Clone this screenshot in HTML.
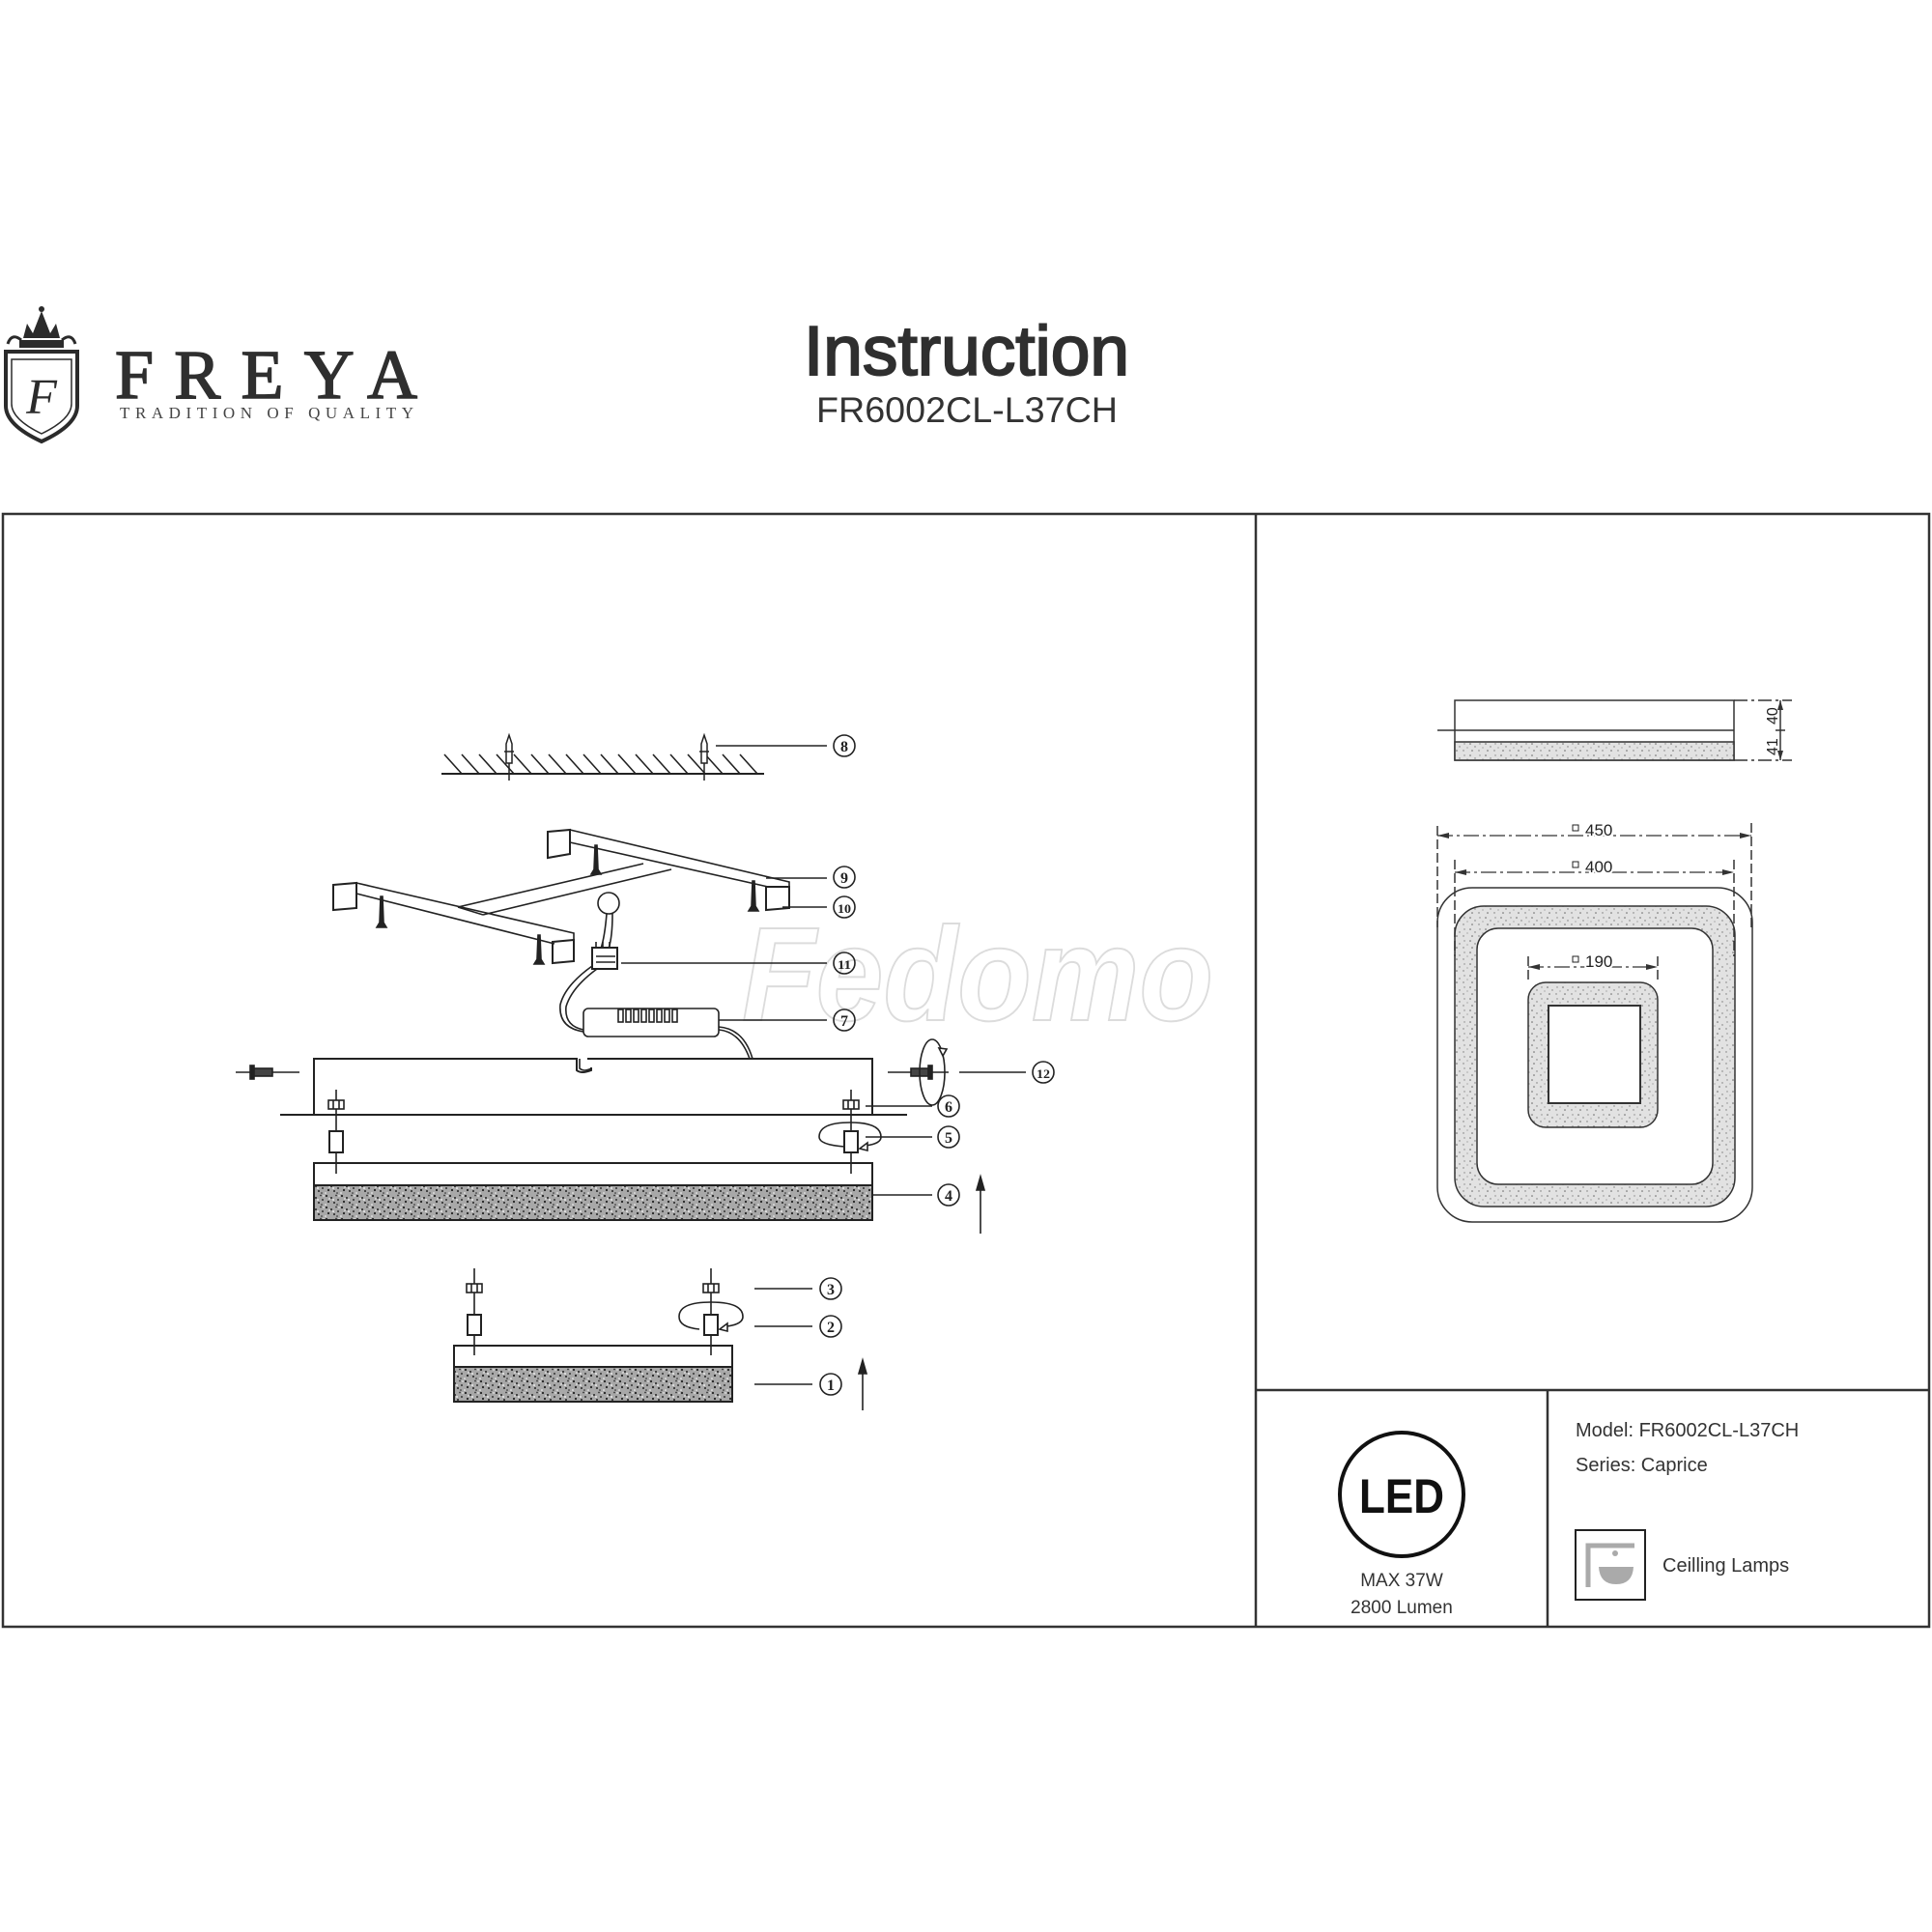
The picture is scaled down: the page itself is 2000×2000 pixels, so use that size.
<!DOCTYPE html>
<html><head><meta charset="utf-8"><style>
html,body{margin:0;padding:0;background:#fff;}
svg{display:block;}
</style></head><body>
<svg width="2000" height="2000" viewBox="0 0 2000 2000" xmlns="http://www.w3.org/2000/svg" font-family="Liberation Sans, sans-serif">
<defs>
<pattern id="fd" width="16" height="12" patternUnits="userSpaceOnUse">
<rect width="16" height="12" fill="#a8a8a8"/>
<circle cx="2" cy="2" r="1.1" fill="#222"/><circle cx="7" cy="4" r="1" fill="#222"/><circle cx="12" cy="1.5" r="0.9" fill="#333"/>
<circle cx="4" cy="8" r="1.1" fill="#222"/><circle cx="10" cy="9" r="1" fill="#222"/><circle cx="14" cy="6" r="1" fill="#333"/>
<circle cx="1" cy="11" r="0.8" fill="#fff"/><circle cx="9" cy="6" r="0.9" fill="#fff"/><circle cx="13" cy="11" r="0.8" fill="#222"/>
<circle cx="5" cy="5" r="0.7" fill="#fff"/><circle cx="15" cy="2" r="0.7" fill="#fff"/>
</pattern>
<pattern id="fl" width="16" height="12" patternUnits="userSpaceOnUse">
<rect width="16" height="12" fill="#e2e2e2"/>
<circle cx="2" cy="2" r="0.8" fill="#666"/><circle cx="7" cy="5" r="0.7" fill="#777"/><circle cx="12" cy="2" r="0.7" fill="#888"/>
<circle cx="4" cy="9" r="0.8" fill="#666"/><circle cx="11" cy="9" r="0.7" fill="#777"/><circle cx="15" cy="6" r="0.6" fill="#888"/>
</pattern>
</defs>

<!-- LOGO -->
<g fill="#2b2b2b">
<path d="M20 360 L66 360 L66 352 L20 352 Z"/>
<path d="M24 350 L28 335 L34 345 L43 322 L52 345 L58 335 L62 350 Z"/>
<circle cx="43" cy="320" r="3"/>
<path d="M8 356 q4 -12 14 -4 M78 356 q-4 -12 -14 -4" fill="none" stroke="#2b2b2b" stroke-width="3"/>
<path d="M6 364 L80 364 L80 420 Q80 440 43 457 Q6 440 6 420 Z" fill="none" stroke="#2b2b2b" stroke-width="4"/>
<path d="M12 372 L74 372 L74 418 Q74 434 43 449 Q12 434 12 418 Z" fill="none" stroke="#2b2b2b" stroke-width="1.5"/>
<text x="43" y="428" font-family="Liberation Serif, serif" font-style="italic" font-size="52" text-anchor="middle">F</text>
</g>
<text x="119" y="412" font-family="Liberation Serif, serif" font-size="72" fill="#2f2f2f" stroke="#2f2f2f" stroke-width="1.5" textLength="313" lengthAdjust="spacing">FREYA</text>
<text x="124" y="433" font-family="Liberation Serif, serif" font-size="17" fill="#444" textLength="304" lengthAdjust="spacing">TRADITION OF QUALITY</text>

<!-- TITLE -->
<text x="832" y="388" font-size="72" fill="#2f2f2f" stroke="#2f2f2f" stroke-width="2" textLength="337" lengthAdjust="spacingAndGlyphs">Instruction</text>
<text x="845" y="437" font-size="37" fill="#333" textLength="312" lengthAdjust="spacingAndGlyphs">FR6002CL-L37CH</text>

<!-- FRAME -->
<g fill="none" stroke="#333" stroke-width="2.5">
<rect x="3" y="532" width="1994" height="1152"/>
<line x1="1300" y1="532" x2="1300" y2="1684"/>
<line x1="1300" y1="1439" x2="1997" y2="1439"/>
<line x1="1602" y1="1439" x2="1602" y2="1684"/>
</g>

<!-- watermark -->
<text x="768" y="1056" font-size="138" font-weight="bold" font-style="italic" fill="#fff" stroke="#dcdcdc" stroke-width="2" textLength="488" lengthAdjust="spacingAndGlyphs">Fedomo</text>

<!-- LEFT DRAWING -->
<g stroke="#222" fill="none" stroke-width="1.6">
<line x1="457" y1="801" x2="791" y2="801" stroke-width="2"/>
<path d="M460 781 l18 20 M478 781 l18 20 M496 781 l18 20 M514 781 l18 20 M532 781 l18 20 M550 781 l18 20 M568 781 l18 20 M586 781 l18 20 M604 781 l18 20 M622 781 l18 20 M640 781 l18 20 M658 781 l18 20 M676 781 l18 20 M694 781 l18 20 M712 781 l18 20 M730 781 l18 20 M748 781 l18 20 M766 781 l18 20"/>
<g stroke-width="1.5" fill="#fff">
<path d="M524 790 L524 770 L527 761 L530 770 L530 790 Z"/><line x1="527" y1="790" x2="527" y2="808"/><line x1="522" y1="778" x2="532" y2="778"/>
<path d="M726 790 L726 770 L729 761 L732 770 L732 790 Z"/><line x1="729" y1="790" x2="729" y2="808"/><line x1="724" y1="778" x2="734" y2="778"/>
</g>
<line x1="741" y1="772" x2="856" y2="772"/>

<path d="M567 861 L590 859 L590 884 L567 888 Z" stroke-width="2"/>
<path d="M590 859 L817 913 L817 918 M590 872 L795 918"/>
<path d="M793 918 L817 918 L817 940 L793 942 Z" stroke-width="2"/>
<path d="M345 916 L369 914 L369 940 L345 942 Z" stroke-width="2"/>
<path d="M369 914 L594 966 L594 973 M369 925 L574 977"/>
<path d="M572 975 L594 973 L594 995 L572 997 Z" stroke-width="2"/>
<path d="M474 939 L666 894 M500 947 L695 900 M474 939 L500 947"/>
<g fill="#222">
<path d="M394 928 L396 928 L397 955 L400 960 L390 960 L393 955 Z"/>
<path d="M616 875 L618 875 L619 900 L622 905 L612 905 L615 900 Z"/>
<path d="M779 912 L781 912 L782 938 L785 943 L775 943 L778 938 Z"/>
<path d="M557 968 L559 968 L560 993 L563 998 L553 998 L556 993 Z"/>
</g>
<line x1="793" y1="909" x2="856" y2="909"/>
<line x1="810" y1="939" x2="856" y2="939"/>
<circle cx="630" cy="935" r="11"/>
<path d="M628 946 Q626 970 622 982 M634 946 Q634 970 630 982"/>
<rect x="613" y="981" width="26" height="22" fill="#fff" stroke-width="2"/>
<path d="M617 981 l0 -6 M624 981 l0 -6 M631 981 l0 -6 M617 990 h20 M617 996 h20"/>
<line x1="643" y1="997" x2="856" y2="997"/>
<path d="M613 1000 Q585 1020 580 1040 Q578 1064 604 1068 M618 1003 Q592 1022 586 1042 Q584 1062 604 1066"/>
<rect x="604" y="1044" width="140" height="29" rx="5" fill="#fff"/>
<g fill="#fff"><rect x="640" y="1045" width="5" height="13"/><rect x="648" y="1045" width="5" height="13"/><rect x="656" y="1045" width="5" height="13"/><rect x="664" y="1045" width="5" height="13"/><rect x="672" y="1045" width="5" height="13"/><rect x="680" y="1045" width="5" height="13"/><rect x="688" y="1045" width="5" height="13"/><rect x="696" y="1045" width="5" height="13"/></g>
<line x1="744" y1="1056" x2="856" y2="1056"/>
<path d="M744 1063 Q770 1065 779 1096 M744 1066 Q766 1068 776 1096"/>
<path d="M325 1153 L325 1096 L597 1096 L597 1108 Q602 1112 612 1108 L612 1105 M608 1096 L903 1096 L903 1153" stroke-width="2"/>
<path d="M600 1096 L600 1106 Q605 1110 612 1106"/>
<line x1="290" y1="1154" x2="939" y2="1154" stroke-width="2"/>
<line x1="244" y1="1110" x2="310" y2="1110"/>
<rect x="262" y="1106" width="20" height="8" fill="#444"/><rect x="259" y="1103" width="4" height="14" fill="#222"/>
<line x1="919" y1="1110" x2="982" y2="1110"/>
<rect x="943" y="1106" width="18" height="8" fill="#444"/><rect x="961" y="1103" width="4" height="14" fill="#222"/>
<ellipse cx="965" cy="1110" rx="13" ry="34"/>
<path d="M972 1085 l4 8 l4 -7 Z" fill="#fff"/>
<line x1="993" y1="1110" x2="1062" y2="1110"/>
<line x1="348" y1="1128" x2="348" y2="1215"/><line x1="881" y1="1128" x2="881" y2="1215"/>
<rect x="340" y="1139" width="16" height="9" fill="#fff"/><path d="M345 1139v9 M351 1139v9"/>
<rect x="873" y="1139" width="16" height="9" fill="#fff"/><path d="M878 1139v9 M884 1139v9"/>
<rect x="341" y="1171" width="14" height="22" fill="#fff" stroke-width="2"/>
<rect x="874" y="1171" width="14" height="22" fill="#fff" stroke-width="2"/>
<path d="M874 1187 Q848 1185 848 1177 Q848 1162 880 1162 Q912 1162 912 1177 Q912 1184 896 1186"/>
<path d="M890 1189 l8 -6 l0 8 Z" fill="#fff"/>
<line x1="896" y1="1145" x2="965" y2="1145"/>
<line x1="896" y1="1177" x2="965" y2="1177"/>
<rect x="325" y="1204" width="578" height="59" fill="#fff" stroke-width="2"/>
<rect x="325" y="1227" width="578" height="36" fill="url(#fd)" stroke-width="2"/>
<line x1="348" y1="1204" x2="348" y2="1215"/><line x1="881" y1="1204" x2="881" y2="1215"/>
<line x1="903" y1="1237" x2="965" y2="1237"/>
<line x1="1015" y1="1277" x2="1015" y2="1225"/>
<path d="M1011 1232 L1015 1218 L1019 1232 Z" fill="#222"/>
<line x1="491" y1="1313" x2="491" y2="1403"/><line x1="736" y1="1313" x2="736" y2="1403"/>
<rect x="483" y="1329" width="16" height="9" fill="#fff"/><path d="M488 1329v9 M494 1329v9"/>
<rect x="728" y="1329" width="16" height="9" fill="#fff"/><path d="M733 1329v9 M739 1329v9"/>
<rect x="484" y="1361" width="14" height="21" fill="#fff" stroke-width="2"/>
<rect x="729" y="1361" width="14" height="21" fill="#fff" stroke-width="2"/>
<path d="M724 1376 Q703 1374 703 1363 Q703 1348 736 1348 Q769 1348 769 1363 Q769 1371 752 1373"/>
<path d="M745 1376 l8 -6 l0 8 Z" fill="#fff"/>
<line x1="781" y1="1334" x2="841" y2="1334"/>
<line x1="781" y1="1373" x2="841" y2="1373"/>
<rect x="470" y="1393" width="288" height="58" fill="#fff" stroke-width="2"/>
<rect x="470" y="1415" width="288" height="36" fill="url(#fd)" stroke-width="2"/>
<line x1="491" y1="1393" x2="491" y2="1403"/><line x1="736" y1="1393" x2="736" y2="1403"/>
<line x1="781" y1="1433" x2="841" y2="1433"/>
<line x1="893" y1="1460" x2="893" y2="1415"/>
<path d="M889 1422 L893 1408 L897 1422 Z" fill="#222"/>
</g>
<g fill="none" stroke="#222" stroke-width="1.6">
<circle cx="874" cy="772" r="11"/><circle cx="874" cy="908" r="11"/><circle cx="874" cy="939" r="11"/>
<circle cx="874" cy="997" r="11"/><circle cx="874" cy="1056" r="11"/><circle cx="1080" cy="1110" r="11"/>
<circle cx="982" cy="1145" r="11"/><circle cx="982" cy="1177" r="11"/><circle cx="982" cy="1237" r="11"/>
<circle cx="860" cy="1334" r="11"/><circle cx="860" cy="1373" r="11"/><circle cx="860" cy="1433" r="11"/>
</g>
<g font-family="Liberation Serif, serif" font-size="16" font-weight="bold" fill="#222" text-anchor="middle">
<text x="874" y="778">8</text><text x="874" y="914">9</text>
<text x="874" y="945" font-size="13" textLength="14" lengthAdjust="spacingAndGlyphs">10</text>
<text x="874" y="1003" font-size="13" textLength="14" lengthAdjust="spacingAndGlyphs">11</text>
<text x="874" y="1062">7</text>
<text x="1080" y="1116" font-size="13" textLength="14" lengthAdjust="spacingAndGlyphs">12</text>
<text x="982" y="1151">6</text><text x="982" y="1183">5</text><text x="982" y="1243">4</text>
<text x="860" y="1340">3</text><text x="860" y="1379">2</text><text x="860" y="1439">1</text>
</g>

<!-- RIGHT DRAWINGS -->
<g stroke="#333" fill="none" stroke-width="1.5">
<rect x="1506" y="725" width="289" height="62"/>
<line x1="1488" y1="756" x2="1795" y2="756"/>
<rect x="1506" y="768" width="289" height="19" fill="url(#fl)"/>
<line x1="1795" y1="725" x2="1855" y2="725" stroke-dasharray="14 4 3 4"/>
<line x1="1795" y1="787" x2="1855" y2="787" stroke-dasharray="14 4 3 4"/>
<line x1="1843" y1="725" x2="1843" y2="787"/>
<line x1="1838" y1="756" x2="1848" y2="756"/>
<!-- top view -->
<rect x="1488" y="919" width="326" height="346" rx="36"/>
<rect x="1506" y="938" width="290" height="311" rx="30" fill="url(#fl)"/>
<rect x="1529" y="961" width="244" height="265" rx="22" fill="#fff"/>
<rect x="1582" y="1017" width="134" height="150" rx="18" fill="url(#fl)"/>
<rect x="1603" y="1041" width="95" height="101" fill="#fff" stroke-width="2"/>
<!-- dims -->
<line x1="1488" y1="865" x2="1813" y2="865" stroke-dasharray="16 4 3 4" stroke-width="1.2"/>
<line x1="1488" y1="855" x2="1488" y2="960" stroke-dasharray="10 4"/>
<line x1="1813" y1="852" x2="1813" y2="960" stroke-dasharray="10 4"/>
<line x1="1506" y1="890" x2="1506" y2="990" stroke-dasharray="10 4"/>
<line x1="1795" y1="890" x2="1795" y2="990" stroke-dasharray="10 4"/>
<line x1="1506" y1="903" x2="1795" y2="903" stroke-dasharray="16 4 3 4" stroke-width="1.2"/>
<line x1="1582" y1="990" x2="1582" y2="1017" stroke-dasharray="10 4"/>
<line x1="1716" y1="990" x2="1716" y2="1017" stroke-dasharray="10 4"/>
<line x1="1582" y1="1001" x2="1716" y2="1001" stroke-dasharray="16 4 3 4" stroke-width="1.2"/>
</g>
<g fill="#333">
<path d="M1488 865 l12 -3 l0 6 Z M1813 865 l-12 -3 l0 6 Z M1506 903 l12 -3 l0 6 Z M1795 903 l-12 -3 l0 6 Z M1582 1001 l12 -3 l0 6 Z M1716 1001 l-12 -3 l0 6 Z M1843 725 l-3 10 l6 0 Z M1843 787 l-3 -10 l6 0 Z"/>
</g>
<g font-family="Liberation Sans Narrow, Liberation Sans, sans-serif" font-size="17" fill="#222">
<rect x="1628" y="854" width="6" height="6" fill="#fff" stroke="#222" stroke-width="1"/>
<text x="1641" y="865" stroke="#fff" stroke-width="4" paint-order="stroke">450</text>
<rect x="1628" y="892" width="6" height="6" fill="#fff" stroke="#222" stroke-width="1"/>
<text x="1641" y="903" stroke="#fff" stroke-width="4" paint-order="stroke">400</text>
<rect x="1628" y="990" width="6" height="6" fill="#fff" stroke="#222" stroke-width="1"/>
<text x="1641" y="1001" stroke="#fff" stroke-width="4" paint-order="stroke">190</text>
<text transform="translate(1840,750) rotate(-90)" font-size="16">40</text>
<text transform="translate(1840,782) rotate(-90)" font-size="16">41</text>
</g>

<!-- INFO -->
<circle cx="1451" cy="1547" r="64" fill="none" stroke="#111" stroke-width="4"/>
<text x="1451" y="1566" font-size="50" font-weight="bold" fill="#111" text-anchor="middle" textLength="88" lengthAdjust="spacingAndGlyphs">LED</text>
<text x="1451" y="1642" font-size="19" fill="#333" text-anchor="middle">MAX 37W</text>
<text x="1451" y="1670" font-size="19" fill="#333" text-anchor="middle">2800 Lumen</text>
<text x="1631" y="1487" font-size="20" fill="#333">Model: FR6002CL-L37CH</text>
<text x="1631" y="1523" font-size="20" fill="#333">Series: Caprice</text>
<rect x="1631" y="1584" width="72" height="72" fill="none" stroke="#222" stroke-width="2"/>
<path d="M1644 1643 L1644 1600 L1692 1600" fill="none" stroke="#aaa" stroke-width="5"/>
<path d="M1655 1622 L1691 1622 Q1690 1640 1673 1640 Q1656 1640 1655 1622 Z" fill="#aaa"/>
<circle cx="1672" cy="1608" r="3" fill="#aaa"/>
<text x="1721" y="1627" font-size="20" fill="#333">Ceilling Lamps</text>
</svg>
</body></html>
